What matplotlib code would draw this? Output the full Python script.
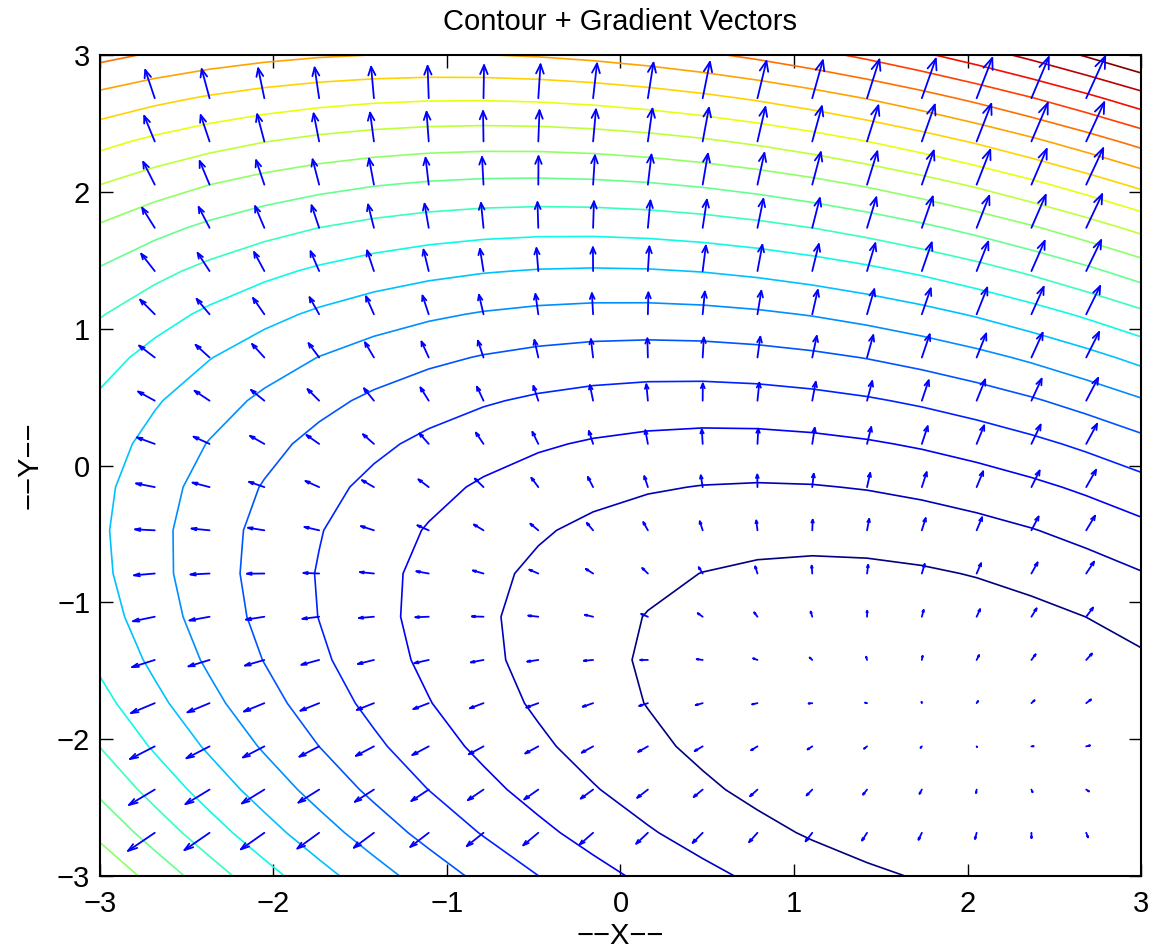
import numpy as np
import matplotlib
matplotlib.use("Agg")
import matplotlib.pyplot as plt
from matplotlib.collections import LineCollection

# grid used for both the contour and the gradient arrows (20 x 20 on [-3, 3])
x_start, x_stop, n_grid = -3.0, 3.0, 20

# quadratic surface:
# z = qa*(x-x0)^2 + qb*(y-y0)^2 + qc*(x-x0)*(y-y0)
x0, y0 = 1.90, -1.93
qa, qb, qc = 0.485, 1.00, 0.587

n_levels = 20
tick_vals = [-3, -2, -1, 0, 1, 2, 3]
title_txt = "Contour + Gradient Vectors"
xlabel_txt = "\u2212\u2212X\u2212\u2212"
ylabel_txt = "\u2212\u2212Y\u2212\u2212"

plt.rcParams['font.family'] = ['Liberation Sans', 'DejaVu Sans']

# surface on the grid
xs = np.linspace(x_start, x_stop, n_grid)
ys = np.linspace(x_start, x_stop, n_grid)
X, Y = np.meshgrid(xs, ys)
Z = qa*(X-x0)**2 + qb*(Y-y0)**2 + qc*(X-x0)*(Y-y0)

# levels like contour(Z,20): evenly spaced, ends dropped
levels = np.linspace(Z.min(), Z.max(), n_levels + 2)[1:-1]

# gradient (numerical, like gradient(Z,h,h)), only interior points drawn
h = xs[1] - xs[0]
DY, DX = np.gradient(Z, h)
Xi, Yi = X[1:-1, 1:-1], Y[1:-1, 1:-1]
U, V = DX[1:-1, 1:-1], DY[1:-1, 1:-1]

# autoscale: longest arrow about one grid cell
s = 1.03 * h / np.max(np.hypot(U, V))
U = U * s
V = V * s

# matlab style open arrow heads
alpha, beta = 0.27, 0.33
segs = []
for x, y, u, v in zip(Xi.ravel(), Yi.ravel(), U.ravel(), V.ravel()):
    tx, ty = x + u, y + v
    segs.append([(x, y), (tx, ty)])
    h1 = (tx - alpha*(u + beta*v), ty - alpha*(v - beta*u))
    h2 = (tx - alpha*(u - beta*v), ty - alpha*(v + beta*u))
    segs.append([h1, (tx, ty), h2])

fig = plt.figure(figsize=(11.53, 9.5), dpi=100)
ax = fig.add_axes([0.0867, 0.0779, 0.9029, 0.8642])

ax.contour(X, Y, Z, levels=levels, cmap='jet', linewidths=1.2)
ax.add_collection(LineCollection(segs, colors=(0, 0, 1), linewidths=1.3,
                                 capstyle='round', joinstyle='round'))

ax.set_xlim(-3, 3)
ax.set_ylim(-3, 3)
ax.set_xticks(tick_vals)
ax.set_yticks(tick_vals)
ax.tick_params(direction='in', top=True, right=True, length=9, width=1.0,
               labelsize=21)
ax.tick_params(axis='x', pad=10)
ax.tick_params(axis='y', pad=7)
for sp in ax.spines.values():
    sp.set_linewidth(1.5)

ax.set_title(title_txt, fontsize=21, pad=18)
ax.set_xlabel(xlabel_txt, fontsize=21, labelpad=3)
ax.set_ylabel(ylabel_txt, fontsize=21, labelpad=10)

fig.savefig("out.png", dpi=100)
